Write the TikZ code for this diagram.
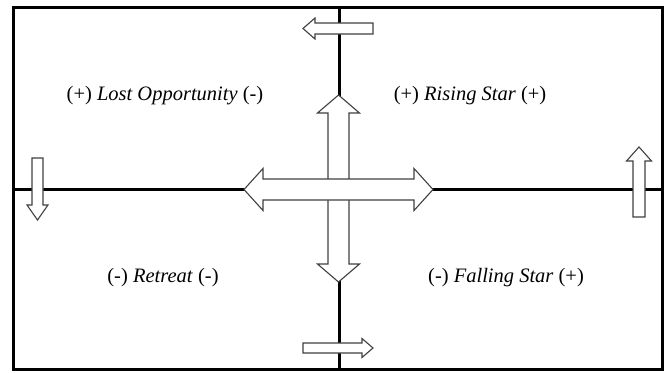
\documentclass[tikz,border=0pt]{standalone}
\usepackage{fontspec}
\setmainfont{Liberation Serif}
\begin{document}
\begin{tikzpicture}[x=1pt,y=-1pt,
  frame/.style={line width=3pt,black},
  axis/.style={line width=3pt,black},
  blockarrow/.style={draw=black!75,line width=1.1pt,fill=white,line join=miter},
  lab/.style={font=\fontsize{20.5}{24}\selectfont,inner sep=0pt,anchor=center}]
\useasboundingbox (0,0) rectangle (669,372);
% frame
\draw[frame] (13.5,7.5) rectangle (662,369.5);
% axes
\coordinate (L) at (13.5,189);
\coordinate (R) at (662,189);
\coordinate (T) at (339,7.5);
\coordinate (B) at (339,369.5);
\draw[axis] (L) -- (R);
\draw[axis] (T) -- (B);
% central vertical double arrow
\draw[blockarrow] (338.5,95) -- (359.5,113) -- (349,113) -- (349,264) -- (359.5,264) -- (338.5,282)
  -- (317.5,264) -- (328,264) -- (328,113) -- (317.5,113) -- cycle;
% central horizontal double arrow
\draw[blockarrow] (244,189.5) -- (263,168.5) -- (263,179) -- (414,179) -- (414,168.5) -- (433,189.5)
  -- (414,210.5) -- (414,200) -- (263,200) -- (263,210.5) -- cycle;
% top small arrow (left)
\draw[blockarrow] (303,28.5) -- (315,18) -- (315,23) -- (373,23) -- (373,34) -- (315,34) -- (315,39) -- cycle;
% bottom small arrow (right)
\draw[blockarrow] (373,348) -- (362,338.5) -- (362,343) -- (303,343) -- (303,353) -- (362,353) -- (362,357.5) -- cycle;
% left small arrow (down)
\draw[blockarrow] (37.5,220) -- (27,205) -- (32,205) -- (32,158) -- (43,158) -- (43,205) -- (48,205) -- cycle;
% right small arrow (up)
\draw[blockarrow] (639,147) -- (651.5,161) -- (645,161) -- (645,217) -- (633,217) -- (633,161) -- (626.5,161) -- cycle;
% labels
\node[lab] (lo) at (165,96) {(+) \textit{Lost Opportunity} (-)};
\node[lab] (rs) at (470,96) {(+) \textit{Rising Star} (+)};
\node[lab] (re) at (163,278) {(-) \textit{Retreat} (-)};
\node[lab] (fs) at (506,278) {(-) \textit{Falling Star} (+)};
\end{tikzpicture}
\end{document}
